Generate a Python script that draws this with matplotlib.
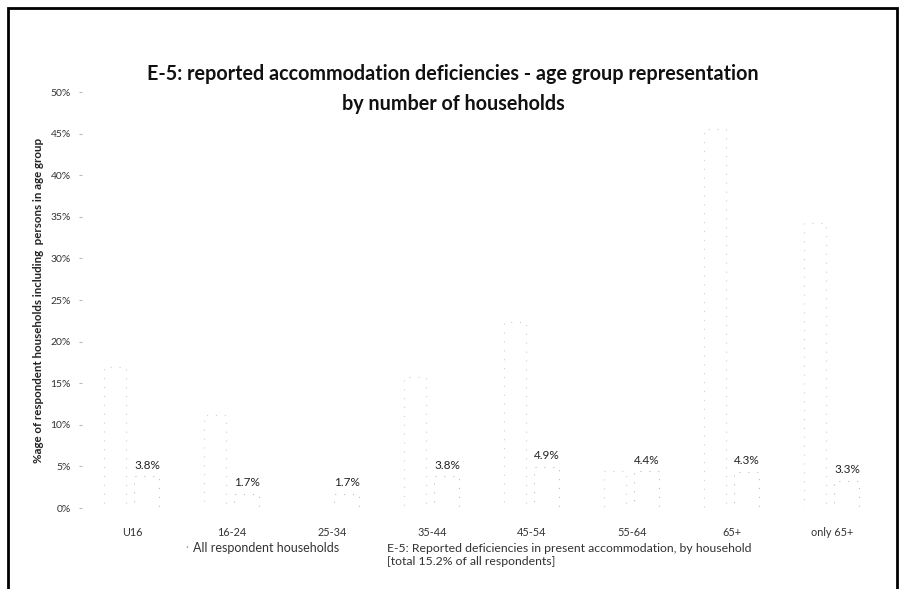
import matplotlib
matplotlib.use("Agg")
import matplotlib.pyplot as plt
import numpy as np

categories = ["U16", "16-24", "25-34", "35-44", "45-54", "55-64", "65+", "only 65+"]
all_households = [17.0, 11.2, 0.0, 15.8, 22.4, 4.5, 45.5, 34.2]
e5_deficiencies = [3.8, 1.7, 1.7, 3.8, 4.9, 4.4, 4.3, 3.3]
e5_labels = ["3.8%", "1.7%", "1.7%", "3.8%", "4.9%", "4.4%", "4.3%", "3.3%"]
y_ticks = [0, 5, 10, 15, 20, 25, 30, 35, 40, 45, 50]
y_tick_labels = ["0%", "5%", "10%", "15%", "20%", "25%", "30%", "35%", "40%", "45%", "50%"]

plt.rcParams['font.family'] = ['Lato', 'DejaVu Sans']

fig = plt.figure(figsize=(9.06, 5.89), dpi=100)
ax = fig.add_axes([0.0905, 0.1375, 0.883, 0.7063])

x = np.arange(len(categories))
ax.bar(x - 0.17, all_households, width=0.22, facecolor='none',
       edgecolor='#cfcfcf', linestyle=(0, (1, 7)), linewidth=0.8)
ax.bar(x + 0.15, e5_deficiencies, width=0.25, facecolor='none',
       edgecolor='#bdbdbd', linestyle=(0, (1, 7)), linewidth=0.8)

for xi, v, lab in zip(x, e5_deficiencies, e5_labels):
    ax.text(xi + 0.15, v + 0.7, lab, ha='center', va='bottom', fontsize=8.5, color='#222222')

ax.set_xlim(-0.5, len(categories) - 0.5)
ax.set_ylim(0, 50)
ax.set_yticks(y_ticks)
ax.set_yticklabels(y_tick_labels, fontsize=7.5, color='#333333')
ax.set_xticks(x)
ax.set_xticklabels(categories, fontsize=7.8, color='#333333')
ax.tick_params(axis='x', length=0, pad=14)
ax.tick_params(axis='y', length=2, color='#bbbbbb', pad=6)
for s in ax.spines.values():
    s.set_visible(False)

ax.set_ylabel("%age of respondent households including  persons in age group",
              fontsize=8.3, fontweight='bold', color='#222222', labelpad=5)

fig.text(0.5, 1 - 89 / 589, "E-5: reported accommodation deficiencies - age group representation\nby number of households",
         ha='center', va='center', fontsize=14.2, fontweight='bold', color='#111111', linespacing=1.6)

# legend
fig.text(0.205, 1 - 548 / 589, "\u00b7", ha='left', va='center', fontsize=8, color='#999999')
fig.text(0.213, 1 - 548 / 589, "All respondent households", ha='left', va='center', fontsize=9, color='#333333')
fig.text(0.427, 1 - 555 / 589, "E-5: Reported deficiencies in present accommodation, by household\n[total 15.2% of all respondents]",
         ha='left', va='center', fontsize=8.8, color='#333333', linespacing=1.15)

# outer border
border = plt.Rectangle((8 / 906, -0.01), (897 - 8) / 906, 1 - 8 / 589 + 0.01, transform=fig.transFigure,
                       fill=False, edgecolor='black', linewidth=2)
fig.add_artist(border)

fig.savefig("out.png", dpi=100)
